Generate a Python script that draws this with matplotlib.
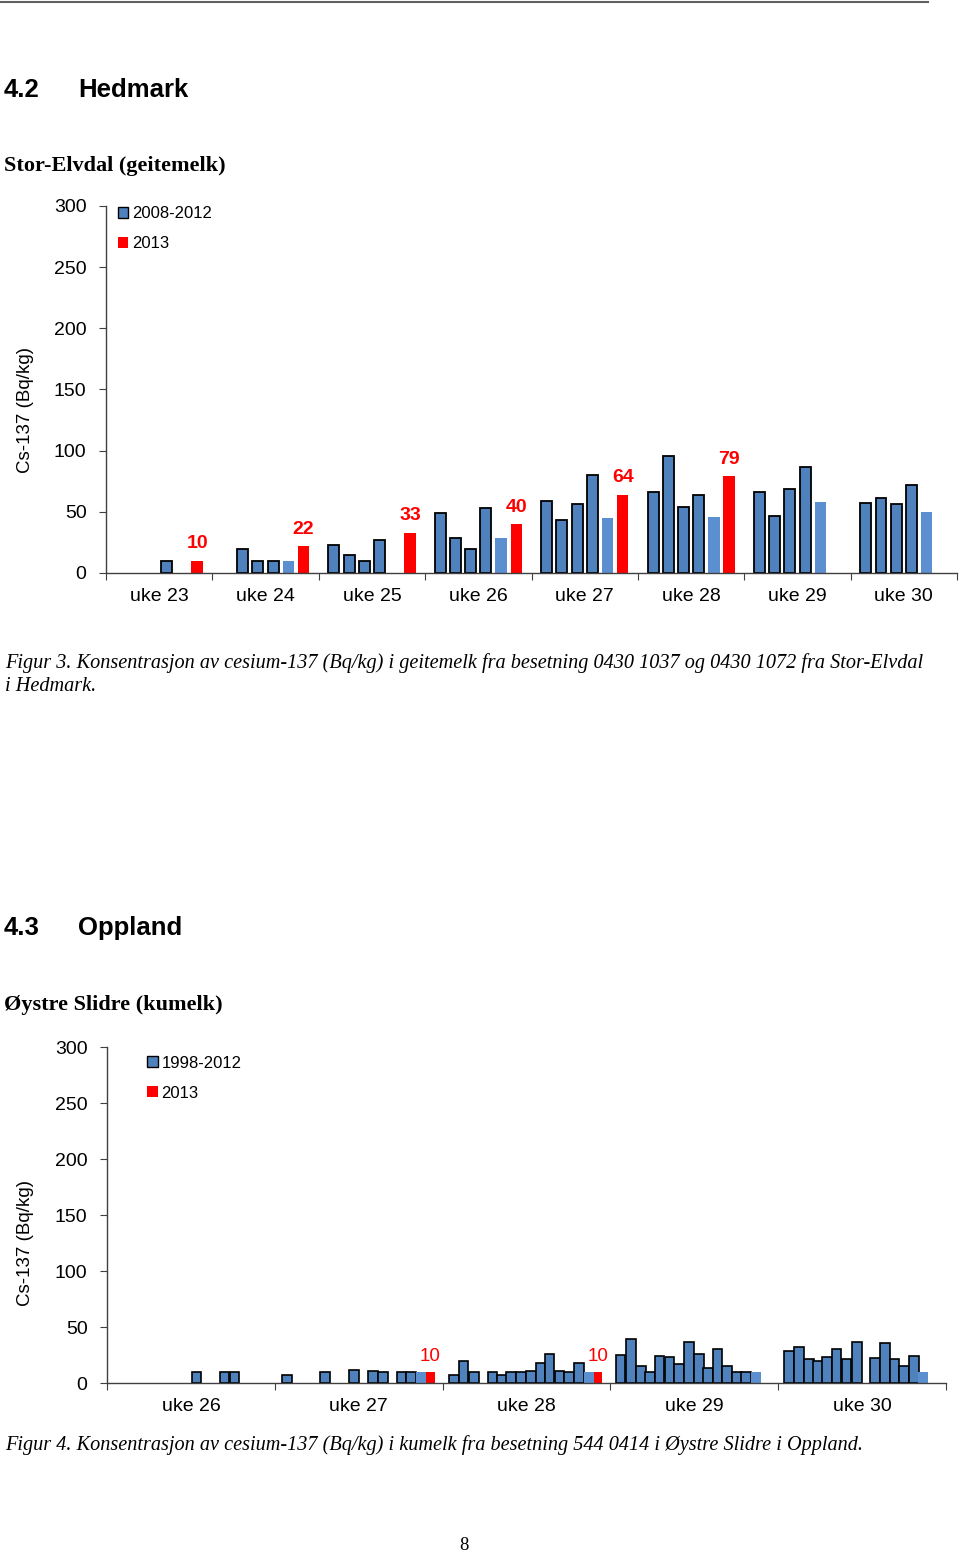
import numpy as np
import matplotlib
matplotlib.use("Agg")
import matplotlib.pyplot as plt
from matplotlib.patches import Patch

# --- Figur 3: Stor-Elvdal (geitemelk), x in days from start of uke 23
c1_weeks = ["uke 23", "uke 24", "uke 25", "uke 26", "uke 27", "uke 28", "uke 29", "uke 30"]
c1_days_hist = [4, 9, 10, 11, 15, 16, 17, 18, 22, 23, 24, 25, 29, 30, 31, 32,
                36, 37, 38, 39, 43, 44, 45, 46, 50, 51, 52, 53]
c1_vals_hist = [10, 20, 10, 10, 23, 15, 10, 27, 49, 29, 20, 53, 59, 43, 56, 80,
                66, 96, 54, 64, 66, 47, 69, 87, 57, 61, 56, 72]
c1_days_mean = [12, 26, 33, 40, 47, 54]
c1_vals_mean = [10, 29, 45, 46, 58, 50]
c1_days_2013 = [6, 13, 20, 27, 34, 41]
c1_vals_2013 = [10, 22, 33, 40, 64, 79]

# --- Figur 4: Øystre Slidre (kumelk), x in days from start of uke 26
c2_weeks = ["uke 26", "uke 27", "uke 28", "uke 29", "uke 30"]
c2_days_hist = [3.73, 4.90, 5.32, 7.52, 9.10, 10.31, 11.10, 11.52, 12.28, 12.68,
                14.47, 14.88, 15.30, 16.09, 16.47, 16.86, 17.28, 17.69, 18.08, 18.46,
                18.88, 19.28, 19.68,
                21.42, 21.86, 22.27, 22.65, 23.04, 23.46, 23.86, 24.29, 24.69, 25.07,
                25.47, 25.87, 26.27, 26.66,
                28.45, 28.87, 29.28, 29.66, 30.03, 30.44, 30.85, 31.28,
                32.05, 32.46, 32.86, 33.26, 33.67]
c2_vals_hist = [10, 10, 10, 7, 10, 12, 11, 10, 10, 10,
                7, 20, 10, 10, 7, 10, 10, 11, 18, 26, 11, 10, 17.5,
                25, 39, 15.5, 10, 24, 23, 17, 37, 26, 13, 30, 15, 10, 10,
                29, 32, 21, 20, 23, 30, 21, 37,
                22, 36, 21, 15, 24]
c2_days_mean = [13.10, 20.10, 27.07, 34.03]
c2_vals_mean = [10, 10, 10, 10]
c2_days_2013 = [13.49, 20.48]
c2_vals_2013 = [10, 10]

BLUE = "#4F81BD"
LIGHT = "#5B8FD0"
RED = "#FF0000"
SANS = "Liberation Sans"
SERIF = "Liberation Serif"

W, H = 960, 1553
fig = plt.figure(figsize=(W / 100, H / 100), dpi=100)


def fx(px):
    return px / W


def fy(py):
    return 1 - py / H


def make_axes(x0, x1, y0, y300, weeks):
    ax = fig.add_axes([fx(x0), fy(y0), fx(x1 - x0), (y0 - y300) / H])
    n = len(weeks)
    ax.set_xlim(0, 7 * n)
    ax.set_ylim(0, 300)
    ax.set_yticks(np.arange(0, 301, 50))
    ax.set_xticks(np.arange(0, 7 * n + 1, 7))
    ax.set_xticklabels([])
    ax.set_xticks(np.arange(n) * 7 + 3.5, minor=True)
    ax.set_xticklabels(weeks, minor=True)
    ax.tick_params(axis="x", which="major", length=5, direction="out", color="#404040")
    ax.tick_params(axis="x", which="minor", length=0, pad=11, labelsize=14)
    ax.tick_params(axis="y", length=5, direction="out", pad=9, labelsize=14, color="#404040")
    for lab in ax.get_xticklabels(minor=True) + ax.get_yticklabels():
        lab.set_fontfamily(SANS)
    for s in ["top", "right"]:
        ax.spines[s].set_visible(False)
    for s in ["left", "bottom"]:
        ax.spines[s].set_color("#404040")
        ax.spines[s].set_linewidth(1.0)
    ax.patch.set_alpha(0)
    return ax


# page text
fig.add_artist(plt.Line2D([0, fx(928)], [fy(2), fy(2)], color="#606060", lw=1.5))
fig.text(fx(4), fy(97), "4.2", fontsize=18.5, fontweight="bold", family=SANS)
fig.text(fx(78), fy(97), "Hedmark", fontsize=18.5, fontweight="bold", family=SANS)
fig.text(fx(4), fy(171), "Stor-Elvdal (geitemelk)", fontsize=16, fontweight="bold", family=SERIF)
fig.text(fx(5), fy(668), "Figur 3. Konsentrasjon av cesium-137 (Bq/kg) i geitemelk fra besetning "
         "0430 1037 og 0430 1072 fra Stor-Elvdal", fontsize=14.6, style="italic", family=SERIF)
fig.text(fx(5), fy(691), "i Hedmark.", fontsize=14.6, style="italic", family=SERIF)

fig.text(fx(4), fy(935), "4.3", fontsize=18.5, fontweight="bold", family=SANS)
fig.text(fx(78), fy(935), "Oppland", fontsize=18.5, fontweight="bold", family=SANS)
fig.text(fx(4), fy(1010), "Øystre Slidre (kumelk)", fontsize=16, fontweight="bold", family=SERIF)
fig.text(fx(5), fy(1450), "Figur 4. Konsentrasjon av cesium-137 (Bq/kg) i kumelk fra besetning "
         "544 0414 i Øystre Slidre i Oppland.", fontsize=14.6, style="italic", family=SERIF)
fig.text(fx(464), fy(1550), "8", fontsize=13.5, family=SERIF, ha="center")

# chart 1
ax1 = make_axes(106, 957, 573, 206, c1_weeks)
ax1.bar(c1_days_hist, c1_vals_hist, width=0.72, color=BLUE, edgecolor="black", linewidth=1.3)
ax1.bar(c1_days_mean, c1_vals_mean, width=0.75, color=LIGHT, linewidth=0)
ax1.bar(c1_days_2013, c1_vals_2013, width=0.75, color=RED, linewidth=0)
for x, v in zip(c1_days_2013, c1_vals_2013):
    ax1.annotate(str(v), (x, v), xytext=(0, 9), textcoords="offset points", ha="center",
                 va="baseline", color=RED, fontsize=14, fontweight="bold", family=SANS)
fig.text(fx(25), fy(410), "Cs-137 (Bq/kg)", rotation=90, ha="center", va="center",
         fontsize=13.5, family=SANS)
h1 = [Patch(facecolor=BLUE, edgecolor="black", linewidth=1.0), Patch(facecolor=RED)]
ax1.legend(h1, ["2008-2012", "2013"], loc="upper left", bbox_to_anchor=(-0.004, 1.04),
           frameon=False, handlelength=0.65, handleheight=0.65, handletextpad=0.2,
           labelspacing=0.9, prop={"family": SANS, "size": 12})

# chart 2
ax2 = make_axes(107, 946, 1383, 1047, c2_weeks)
ax2.bar(c2_days_hist, c2_vals_hist, width=0.40, color=BLUE, edgecolor="black", linewidth=1.2)
ax2.bar(c2_days_mean, c2_vals_mean, width=0.40, color=LIGHT, linewidth=0)
ax2.bar(c2_days_2013, c2_vals_2013, width=0.36, color=RED, linewidth=0)
for x, v in zip(c2_days_2013, c2_vals_2013):
    ax2.annotate(str(v), (x, v), xytext=(0, 8), textcoords="offset points", ha="center",
                 va="baseline", color=RED, fontsize=13.5, family=SANS)
fig.text(fx(25), fy(1243), "Cs-137 (Bq/kg)", rotation=90, ha="center", va="center",
         fontsize=13.5, family=SANS)
h2 = [Patch(facecolor=BLUE, edgecolor="black", linewidth=1.0), Patch(facecolor=RED)]
ax2.legend(h2, ["1998-2012", "2013"], loc="upper left", bbox_to_anchor=(0.030, 1.019),
           frameon=False, handlelength=0.65, handleheight=0.65, handletextpad=0.2,
           labelspacing=0.9, prop={"family": SANS, "size": 12})

fig.savefig("out.png", dpi=100)
